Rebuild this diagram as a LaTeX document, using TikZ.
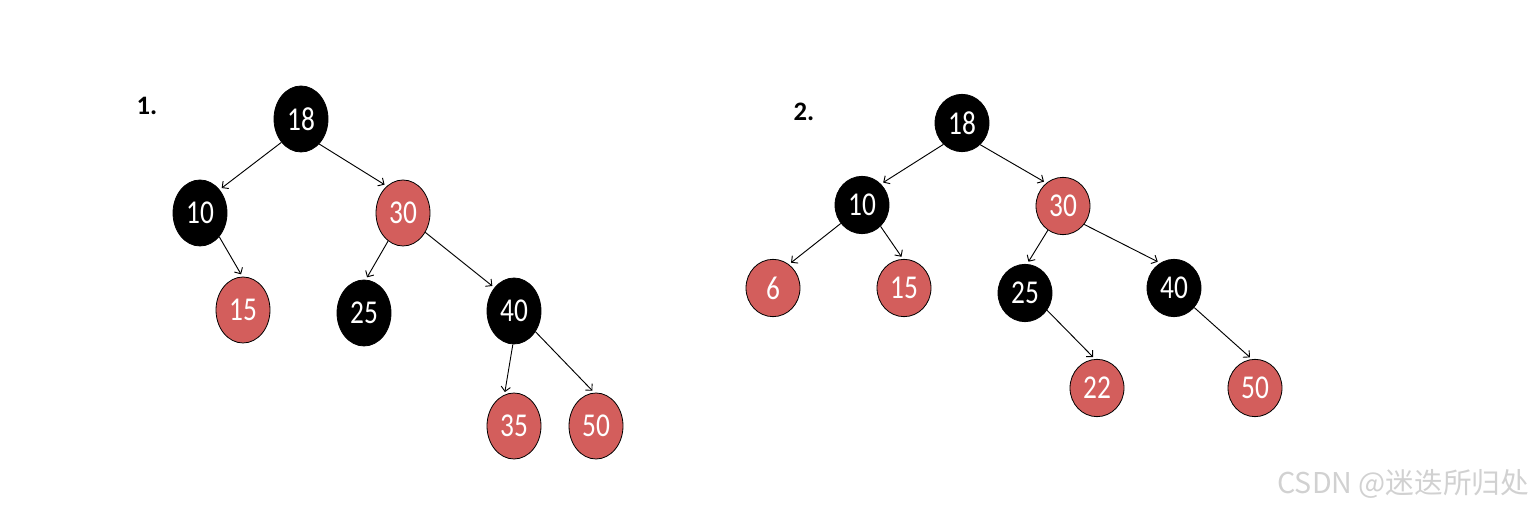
\documentclass[tikz,border=0pt]{standalone}
\usepackage{fontspec}
\setmainfont{Carlito}
\newfontfamily\cjk{Noto Sans CJK SC}
\usetikzlibrary{shapes.geometric,arrows.meta}
\definecolor{nodered}{RGB}{211,94,92}
\newcommand\numtxt[1]{\scalebox{0.82}[1]{#1}}
\tikzset{
  rbnode/.style={ellipse, draw=black, line width=0.6pt, inner sep=0pt, text=white,
    font=\fontsize{25}{25}\selectfont},
  bnode/.style={rbnode, fill=black},
  rnode/.style={rbnode, fill=nodered},
  tone/.style={minimum width=40.5pt, minimum height=49.5pt},
  ttwo/.style={minimum width=40.5pt, minimum height=43pt},
  edge/.style={-{Straight Barb[length=3.5pt,width=7pt]}, line width=0.7pt, shorten >=2pt},
  lbl/.style={font=\bfseries\fontsize{20}{20}\selectfont}
}
\begin{document}
\begin{tikzpicture}[x=0.75pt,y=-0.75pt]
\useasboundingbox (0,0) rectangle (1538,509);
% tree 1
\node[lbl] (l1) at (147,106) {1.};
\node[bnode,tone] (a18) at (301,119) {\numtxt{18}};
\node[bnode,tone] (a10) at (200,213) {\numtxt{10}};
\node[rnode,tone] (a30) at (403,213) {\numtxt{30}};
\node[rnode,tone] (a15) at (243,310) {\numtxt{15}};
\node[bnode,tone] (a25) at (364,313) {\numtxt{25}};
\node[bnode,tone] (a40) at (514,311) {\numtxt{40}};
\node[rnode,tone] (a35) at (514,426) {\numtxt{35}};
\node[rnode,tone] (a50) at (596,426) {\numtxt{50}};
\draw[edge] (a18.230) -- (a10.50);
\draw[edge] (a18.306) -- (a30.121);
\draw[edge] (a10.309) -- (a15.91);
\draw[edge] (a30.242) -- (a25.87);
\draw[edge] (a30.319) -- (a40.130);
\draw[edge] (a40.268) -- (a35.107);
\draw[edge] (a40.316) -- (a50.93);
% tree 2
\node[lbl] (l2) at (804,112) {2.};
\node[bnode,ttwo] (b18) at (962,123) {\numtxt{18}};
\node[bnode,ttwo] (b10) at (862,205) {\numtxt{10}};
\node[rnode,ttwo] (b30) at (1063,206) {\numtxt{30}};
\node[rnode,ttwo] (b6) at (773,288) {\numtxt{6}};
\node[rnode,ttwo] (b15) at (904,288) {\numtxt{15}};
\node[bnode,ttwo] (b25) at (1025,293) {\numtxt{25}};
\node[bnode,ttwo] (b40) at (1174,288) {\numtxt{40}};
\node[rnode,ttwo] (b22) at (1097,388) {\numtxt{22}};
\node[rnode,ttwo] (b50) at (1255,388) {\numtxt{50}};
\draw[edge] (b18.229) -- (b10.48);
\draw[edge] (b18.310) -- (b30.126);
\draw[edge] (b10.221) -- (b6.56);
\draw[edge] (b10.311) -- (b15.92);
\draw[edge] (b30.238) -- (b25.86);
\draw[edge] (b30.319) -- (b40.119);
\draw[edge] (b25.322) -- (b22.94);
\draw[edge] (b40.316) -- (b50.96);
% watermark
\node[text=black!18, font=\cjk\fontsize{21.5}{21.5}\selectfont, anchor=east] (wm) at (1534,484) {CSDN @迷迭所归处};
\end{tikzpicture}
\end{document}
